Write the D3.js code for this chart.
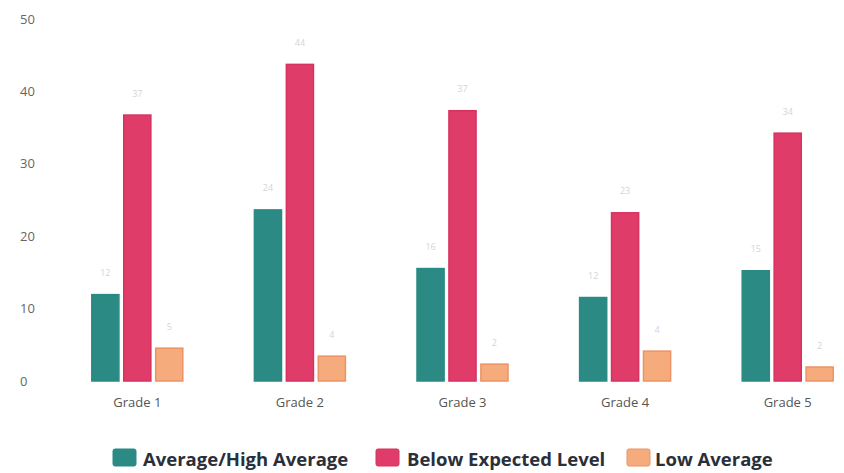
<!DOCTYPE html>
<html>
<head>
<meta charset="utf-8">
<script src="https://cdn.jsdelivr.net/npm/d3@7"></script>
<style>
  body { margin: 0; background: #fff; }
  svg { display: block; font-family: "Open Sans", "DejaVu Sans", sans-serif; }
</style>
</head>
<body>
<div id="chart"></div>
<script>
// Grades x performance groups
const grades = ['Grade 1', 'Grade 2', 'Grade 3', 'Grade 4', 'Grade 5'];
const seriesNames = ['Average/High Average', 'Below Expected Level', 'Low Average'];
const averageHigh = [12, 23.7, 15.6, 11.6, 15.3];
const belowExpected = [36.8, 43.8, 37.4, 23.3, 34.3];
const lowAverage = [4.6, 3.5, 2.4, 4.2, 2];
const yTicks = [0, 10, 20, 30, 40, 50];

const fills = ['#2b8a83', '#e03c69', '#f6ab7c'];
const strokes = ['#2b8a83', '#d8315e', '#ec9265'];

const width = 844, height = 473;
const svg = d3.select('#chart').append('svg')
  .attr('width', width)
  .attr('height', height);

const y = d3.scaleLinear().domain([0, 50]).range([381, 19]);
const x0 = d3.scaleBand().domain(grades).range([56, 869]);
const x1 = d3.scaleBand().domain(seriesNames).range([-46, 46]).paddingInner(0.12);

const values = [averageHigh, belowExpected, lowAverage];
const data = [];
grades.forEach((g, i) => {
  seriesNames.forEach((s, j) => data.push({ grade: g, series: s, idx: j, value: values[j][i] }));
});

// Y axis labels (no axis line)
svg.append('g')
  .selectAll('text')
  .data(yTicks)
  .join('text')
  .attr('x', 20)
  .attr('y', d => y(d))
  .attr('dy', '0.35em')
  .style('font-size', '13px')
  .style('fill', '#666')
  .text(d => d);

// Bars
svg.append('g')
  .selectAll('rect')
  .data(data)
  .join('rect')
  .attr('x', d => x0(d.grade) + x0.bandwidth() / 2 + x1(d.series) + 0.5)
  .attr('y', d => y(d.value) + 0.5)
  .attr('width', x1.bandwidth() - 1)
  .attr('height', d => y(0) - y(d.value) - 0.5)
  .attr('fill', d => fills[d.idx])
  .attr('stroke', d => strokes[d.idx])
  .attr('stroke-width', 1.5);

// Faint value labels above bars
svg.append('g')
  .selectAll('text')
  .data(data)
  .join('text')
  .attr('x', d => x0(d.grade) + x0.bandwidth() / 2 + x1(d.series) + x1.bandwidth() / 2)
  .attr('y', d => y(d.value) - 18)
  .attr('text-anchor', 'middle')
  .style('font-size', '9px')
  .style('fill', '#d4d4d4')
  .text(d => Math.round(d.value));

// X axis labels
svg.append('g')
  .selectAll('text')
  .data(grades)
  .join('text')
  .attr('x', d => x0(d) + x0.bandwidth() / 2)
  .attr('y', 407)
  .attr('text-anchor', 'middle')
  .style('font-size', '13px')
  .style('fill', '#555')
  .text(d => d);

// Legend
const legendX = [113, 376, 627];
const legend = svg.append('g')
  .selectAll('g')
  .data(seriesNames)
  .join('g')
  .attr('transform', (d, i) => `translate(${legendX[i]},449)`);

legend.append('rect')
  .attr('width', 23)
  .attr('height', 17)
  .attr('rx', 2)
  .attr('fill', (d, i) => fills[i])
  .attr('stroke', (d, i) => strokes[i]);

legend.append('text')
  .attr('x', (d, i) => [30, 31, 28][i])
  .attr('y', 17)
  .style('font-size', '18.5px')
  .style('font-weight', '700')
  .style('fill', '#2a2f3a')
  .text(d => d);
</script>
</body>
</html>
